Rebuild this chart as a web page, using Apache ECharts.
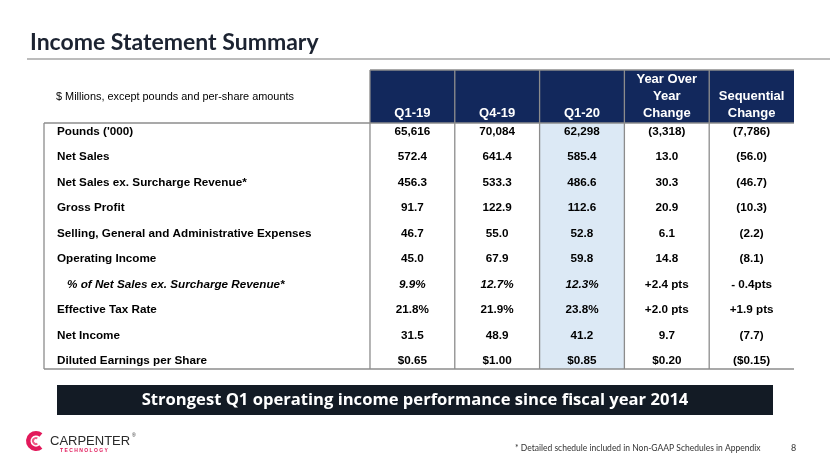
<!DOCTYPE html>
<html><head><meta charset="utf-8">
<script src="https://cdn.jsdelivr.net/npm/echarts@6/dist/echarts.min.js"></script>
<style>html,body{margin:0;padding:0;background:#fff}#c{width:830px;height:467px}</style>
</head><body><div id="c"></div>
<script>
// ---------- data ----------
const rowLabels = ["Pounds ('000)", "Net Sales", "Net Sales ex. Surcharge Revenue*", "Gross Profit",
  "Selling, General and Administrative Expenses", "Operating Income", "% of Net Sales ex. Surcharge Revenue*",
  "Effective Tax Rate", "Net Income", "Diluted Earnings per Share"];
const rowFormats = ['int', 'm', 'm', 'm', 'm', 'm', 'pct', 'pct', 'm', 'usd'];
const italicRows = [6];
const columnHeaders = ['Q1-19', 'Q4-19', 'Q1-20', 'Year Over\nYear\nChange', 'Sequential\nChange'];
const changeColumns = [3, 4];
const highlightColumn = 2;
const q1_19 = [65616, 572.4, 456.3, 91.7, 46.7, 45.0, 9.9, 21.8, 31.5, 0.65];
const q4_19 = [70084, 641.4, 533.3, 122.9, 55.0, 67.9, 12.7, 21.9, 48.9, 1.00];
const q1_20 = [62298, 585.4, 486.6, 112.6, 52.8, 59.8, 12.3, 23.8, 41.2, 0.85];
const yoyChange = [-3318, 13.0, 30.3, 20.9, 6.1, 14.8, 2.4, 2.0, 9.7, 0.20];
const seqChange = [-7786, -56.0, -46.7, -10.3, -2.2, -8.1, -0.4, 1.9, -7.7, -0.15];
const columns = [q1_19, q4_19, q1_20, yoyChange, seqChange];
const unitNote = '$ Millions, except pounds and per-share amounts';
const titleText = 'Income Statement Summary';
const bannerText = 'Strongest Q1 operating income performance since fiscal year 2014';
const footnote = '* Detailed schedule included in Non-GAAP Schedules in Appendix';
const pageNumber = '8';

// ---------- layout ----------
const LABEL_W = 3.844;          // label column width in data-column units
const Y_MIN = -2.078, Y_MAX = 9.647, TEXT_OFF = 0.33;
const NAVY = '#12285c', BORDER = '#8c8c8c', HILITE = '#dce9f5';
const BODY_FONT = '"Liberation Sans", Arial, sans-serif';
const BODY_SIZE = 11.7;

function fmt(v, f, isChange) {
  const a = Math.abs(v), neg = v < 0;
  if (f === 'int') { const s = a.toLocaleString('en-US'); return neg ? '(' + s + ')' : s; }
  if (f === 'm') { const s = a.toFixed(1); return neg ? '(' + s + ')' : s; }
  if (f === 'usd') { const s = '$' + a.toFixed(2); return neg ? '(' + s + ')' : s; }
  if (f === 'pct') {
    if (!isChange) return v.toFixed(1) + '%';
    return neg ? '- ' + a.toFixed(1) + 'pts' : '+' + a.toFixed(1) + ' pts';
  }
  return String(v);
}

const bodyCells = [];
columns.forEach((col, c) => col.forEach((v, r) => {
  const isChange = changeColumns.includes(c);
  bodyCells.push({ value: [c, r], text: fmt(v, rowFormats[r], isChange), italic: italicRows.includes(r) && !isChange });
}));
const colX0 = c => LABEL_W + c;
const colMid = c => LABEL_W + c + 0.5;

const chart = echarts.init(document.getElementById('c'), null, { renderer: 'canvas' });
chart.setOption({
  animation: false,
  title: { text: titleText, left: 25, top: 26,
    textStyle: { fontFamily: 'Lato', fontWeight: 'bold', fontSize: 23, color: '#1c2331' } },
  grid: { left: 44, top: 70, width: 750, height: 299 },
  xAxis: { type: 'value', min: 0, max: LABEL_W + columnHeaders.length, show: false },
  yAxis: { type: 'value', min: Y_MIN, max: Y_MAX, inverse: true, show: false },
  series: [
    { // highlight column
      type: 'custom', z: 1, data: [[highlightColumn]],
      renderItem: (p, api) => {
        const c = api.value(0);
        const a = api.coord([colX0(c), 0]), b = api.coord([colX0(c) + 1, Y_MAX]);
        return { type: 'rect', shape: { x: a[0], y: a[1], width: b[0] - a[0], height: b[1] - a[1] }, style: { fill: HILITE } };
      }
    },
    { // header cells
      type: 'custom', z: 2, data: columnHeaders.map((h, i) => [i]),
      renderItem: (p, api) => {
        const c = api.value(0);
        const a = api.coord([colX0(c), Y_MIN]), b = api.coord([colX0(c) + 1, 0]);
        return { type: 'group', children: [
          { type: 'rect', shape: { x: a[0], y: a[1], width: b[0] - a[0], height: b[1] - a[1] }, style: { fill: NAVY } },
          { type: 'text', style: { text: columnHeaders[p.dataIndex], x: (a[0] + b[0]) / 2, y: b[1] - 1,
            align: 'center', verticalAlign: 'bottom', lineHeight: 17,
            fontFamily: BODY_FONT, fontWeight: 'bold', fontSize: 13, fill: '#fff' } }
        ] };
      }
    },
    { // frame lines (verticals)
      type: 'custom', z: 3, data: [0].concat(columnHeaders.map((h, i) => i + 1)).map(v => [v]),
      renderItem: (p, api) => {
        const k = api.value(0);
        const x = k === 0 ? 0 : colX0(k - 1);
        const top = k === 0 ? 0 : Y_MIN;
        const a = api.coord([x, top]), b = api.coord([x, Y_MAX]);
        return { type: 'line', shape: { x1: a[0], y1: a[1], x2: b[0], y2: b[1] }, style: { stroke: BORDER, lineWidth: 1.3 } };
      }
    },
    { // frame lines (horizontals)
      type: 'custom', z: 3, data: [[Y_MIN, LABEL_W], [0, 0], [Y_MAX, 0]],
      renderItem: (p, api) => {
        const y = api.value(0), x0 = api.value(1);
        const a = api.coord([x0, y]), b = api.coord([LABEL_W + columnHeaders.length, y]);
        return { type: 'line', shape: { x1: a[0], y1: a[1], x2: b[0], y2: b[1] }, style: { stroke: BORDER, lineWidth: 1.3 } };
      }
    },
    { // row labels
      type: 'custom', z: 4, data: rowLabels.map((l, i) => [i]),
      renderItem: (p, api) => {
        const r = api.value(0);
        const it = italicRows.includes(r);
        const a = api.coord([0, r + TEXT_OFF]);
        return { type: 'text', style: { text: rowLabels[r], x: a[0] + (it ? 23 : 13), y: a[1],
          align: 'left', verticalAlign: 'middle', fontFamily: BODY_FONT, fontWeight: 'bold',
          fontStyle: it ? 'italic' : 'normal', fontSize: BODY_SIZE, fill: '#000' } };
      }
    },
    { // body values
      type: 'custom', z: 4, data: bodyCells.map(d => d.value),
      renderItem: (p, api) => {
        const c = api.value(0), r = api.value(1);
        const cell = bodyCells[p.dataIndex];
        const a = api.coord([colMid(c), r + TEXT_OFF]);
        return { type: 'text', style: { text: cell.text, x: a[0], y: a[1], align: 'center', verticalAlign: 'middle',
          fontFamily: BODY_FONT, fontWeight: 'bold', fontStyle: cell.italic ? 'italic' : 'normal', fontSize: BODY_SIZE, fill: '#000' } };
      }
    }
  ],
  graphic: [
    { type: 'line', shape: { x1: 27, y1: 59, x2: 830, y2: 59 }, style: { stroke: '#a6a6a6', lineWidth: 1.5 } },
    { type: 'text', x: 56, y: 97, style: { text: unitNote, fontFamily: BODY_FONT, fontSize: 10.9, fill: '#000', verticalAlign: 'middle' } },
    { type: 'rect', shape: { x: 57, y: 385, width: 716, height: 30 }, style: { fill: '#131b25' } },
    { type: 'text', x: 415, y: 400, style: { text: bannerText, align: 'center', verticalAlign: 'middle',
      fontFamily: '"Open Sans"', fontWeight: 'bold', fontSize: 16.6, fill: '#fff' } },
    { type: 'text', x: 515, y: 448, style: { text: footnote, verticalAlign: 'middle', fontFamily: 'Lato', fontSize: 8.5, fill: '#333' } },
    { type: 'text', x: 791, y: 448, style: { text: pageNumber, verticalAlign: 'middle', fontFamily: 'Lato', fontSize: 9, fill: '#333' } },
    { type: 'sector', shape: { cx: 36, cy: 441, r: 10, r0: 5.5, startAngle: Math.PI * 0.28, endAngle: Math.PI * 1.72 }, style: { fill: '#e2195b' } },
    { type: 'sector', shape: { cx: 36, cy: 441, r: 4, r0: 2, startAngle: Math.PI * 0.35, endAngle: Math.PI * 1.65 }, style: { fill: '#ef5a87' } },
    { type: 'text', x: 50, y: 441, style: { text: 'CARPENTER', verticalAlign: 'middle', fontFamily: BODY_FONT, fontSize: 13, fill: '#2b2b2b' } },
    { type: 'text', x: 132, y: 436, style: { text: '®', verticalAlign: 'middle', fontFamily: BODY_FONT, fontSize: 5, fill: '#2b2b2b' } },
    { type: 'text', x: 60, y: 451, style: { text: 'T E C H N O L O G Y', verticalAlign: 'middle', fontFamily: BODY_FONT, fontWeight: 'bold', fontSize: 5, fill: '#e2195b' } }
  ]
});
</script></body></html>
